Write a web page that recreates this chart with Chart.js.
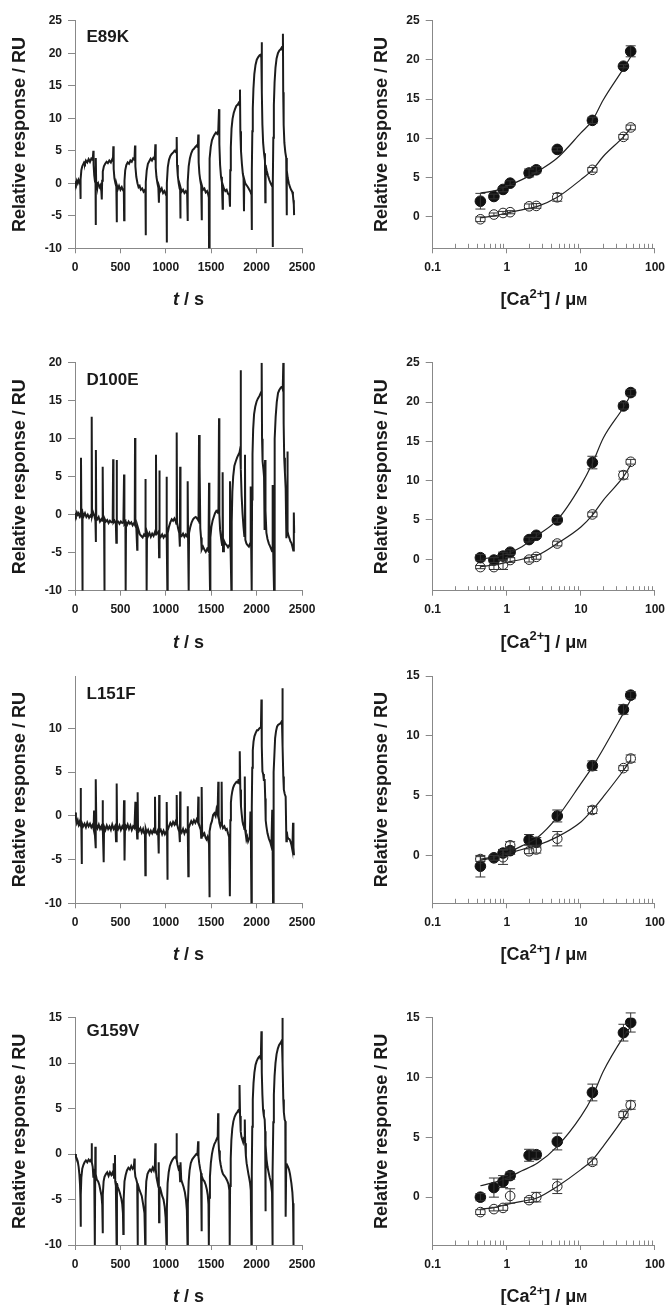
<!DOCTYPE html>
<html><head><meta charset="utf-8">
<script src="https://cdn.jsdelivr.net/npm/chart.js@4.4.1/dist/chart.umd.min.js"></script>
<style>
html,body{margin:0;padding:0;background:#fff;width:672px;height:1305px;overflow:hidden;position:relative}
canvas{position:absolute}
</style></head><body>
<script>
// ---------------- DATA ----------------
const traceTickStep = 500;
const caMajorTicks = [0.1, 1, 10, 100];
const caTickLabels = ['0.1', '1', '10', '100'];
const caMinorTicks = [0.2,0.3,0.4,0.5,0.6,0.7,0.8,0.9,2,3,4,5,6,7,8,9,20,30,40,50,60,70,80,90];
const panelLabels = ['E89K', 'D100E', 'L151F', 'G159V'];

// sensorgram traces: [time s, response RU]
const traceE89K = [[0,0.3],[10,-0.1],[20,0.4],[30,0.0],[40,0.5],[50,0.1],[57,0.3],[60,-2.4],[63,0.6],[70,2.0],[80,2.6],[90,2.9],[100,3.2],[110,3.0],[120,3.5],[135,3.2],[150,3.7],[165,3.3],[180,3.8],[195,3.6],[202,5.0],[205,2.8],[212,1.2],[220,0.3],[226,0.0],[228,-6.4],[230,3.9],[233,0.2],[242,-0.4],[255,0.0],[268,-0.6],[280,-0.3],[290,-1.2],[295,-2.5],[299,0.4],[306,1.8],[318,2.6],[332,3.0],[348,3.3],[362,3.1],[378,3.5],[395,3.2],[410,3.7],[418,3.5],[422,5.7],[426,2.2],[434,0.8],[445,0.0],[455,-0.5],[459,-6.0],[462,-0.3],[472,-0.9],[485,-0.4],[500,-1.0],[515,-0.6],[530,-1.1],[538,-1.3],[541,-5.7],[545,0.4],[553,2.0],[565,2.8],[580,3.2],[595,3.0],[610,3.5],[625,3.3],[640,3.8],[655,3.6],[661,5.8],[665,2.6],[675,1.0],[688,0.0],[700,-0.6],[712,-0.4],[725,-1.0],[740,-0.8],[755,-1.3],[770,-1.0],[776,-1.5],[778,-8.0],[781,0.2],[790,2.0],[803,3.0],[818,3.4],[833,3.8],[848,3.5],[863,3.9],[878,3.7],[885,6.0],[889,2.4],[897,1.0],[908,0.0],[918,-0.7],[924,-3.0],[928,-0.6],[940,-1.2],[955,-0.8],[970,-1.5],[985,-1.2],[1000,-1.7],[1008,-1.6],[1010,-9.1],[1013,0.0],[1022,2.5],[1035,3.6],[1050,4.2],[1065,4.5],[1080,4.7],[1095,5.0],[1110,4.8],[1116,5.2],[1120,7.1],[1124,2.8],[1132,1.2],[1142,0.0],[1152,-0.8],[1158,-1.0],[1160,-5.4],[1163,-0.6],[1175,-1.3],[1190,-1.0],[1205,-1.5],[1220,-1.2],[1235,-1.6],[1239,-1.4],[1241,-5.8],[1244,0.2],[1252,2.6],[1265,3.8],[1280,4.6],[1295,5.1],[1310,5.3],[1325,5.6],[1340,5.8],[1352,5.6],[1358,7.5],[1362,3.2],[1370,1.5],[1380,0.4],[1390,-0.4],[1395,-5.7],[1398,-0.3],[1410,-1.0],[1425,-0.8],[1440,-1.4],[1455,-1.2],[1468,-1.8],[1474,-2.2],[1476,-10.0],[1479,0.5],[1486,3.8],[1495,5.6],[1508,6.6],[1522,7.1],[1537,7.5],[1552,7.8],[1567,7.6],[1578,8.1],[1586,11.4],[1590,6.0],[1598,2.8],[1608,1.0],[1618,0.2],[1626,-3.9],[1629,-0.3],[1640,-0.8],[1655,-1.2],[1670,-1.0],[1685,-1.6],[1700,-1.8],[1707,-3.6],[1710,2.0],[1716,5.5],[1724,8.4],[1735,9.9],[1748,10.8],[1762,11.4],[1777,11.9],[1792,12.1],[1805,12.4],[1812,12.0],[1817,14.4],[1821,8.0],[1828,5.0],[1838,3.0],[1848,1.5],[1856,0.8],[1861,-4.3],[1864,0.6],[1875,0.0],[1890,-0.3],[1905,-0.6],[1920,-1.0],[1935,-1.4],[1944,-1.8],[1946,-7.2],[1949,2.0],[1953,8.0],[1958,11.5],[1965,14.5],[1975,16.8],[1988,18.2],[2002,19.0],[2018,19.4],[2033,19.7],[2046,19.8],[2052,19.3],[2056,21.7],[2059,14.0],[2064,9.0],[2072,6.2],[2082,4.6],[2092,3.5],[2096,-2.9],[2099,2.8],[2110,2.0],[2125,1.2],[2140,0.5],[2155,0.0],[2168,-0.4],[2175,-0.6],[2177,-9.8],[2180,0.0],[2184,7.0],[2190,12.0],[2198,15.5],[2208,17.8],[2220,19.2],[2235,20.0],[2250,20.4],[2265,20.6],[2278,20.9],[2286,20.5],[2290,23.0],[2293,14.0],[2298,9.0],[2306,6.2],[2316,4.8],[2326,3.9],[2331,-4.9],[2334,2.0],[2343,0.8],[2355,0.0],[2368,-0.6],[2380,-1.0],[2392,-1.3],[2400,-1.8],[2405,-2.6],[2410,-3.3],[2413,-4.9]];

const traceD100E = [[0,0.2],[10,-0.1],[20,0.3],[30,0.0],[40,0.2],[50,-0.2],[60,0.1],[66,7.5],[70,0.0],[78,0.2],[81,-10],[85,0.3],[95,-0.2],[110,0.2],[125,-0.3],[140,0.0],[155,-0.4],[170,-0.1],[180,-0.3],[184,12.9],[188,-0.2],[200,0.3],[215,-0.2],[225,-0.8],[229,-3.6],[231,8.5],[234,-0.4],[245,-0.6],[260,-0.3],[275,-0.9],[290,-0.6],[300,-0.8],[305,6.3],[309,-0.7],[320,-0.9],[323,-10],[327,-0.5],[340,-0.9],[355,-0.7],[370,-1.1],[385,-0.8],[400,-1.0],[415,-0.9],[420,7.3],[424,-1.0],[435,-0.8],[450,-1.2],[455,-3.7],[459,7.2],[462,-1.0],[475,-0.9],[490,-1.2],[505,-0.9],[520,-1.1],[533,-1.0],[540,5.3],[544,-1.2],[555,-1.0],[558,-10],[562,-1.0],[575,-1.3],[590,-0.9],[605,-1.2],[620,-1.0],[635,-1.4],[650,-1.1],[658,-1.3],[661,10.1],[665,-1.4],[675,-1.6],[685,-4.6],[688,-1.5],[700,-2.0],[715,-2.6],[730,-2.8],[745,-3.0],[760,-2.6],[772,-2.8],[775,4.7],[779,-2.5],[786,-2.7],[789,-10],[793,-2.3],[805,-2.8],[820,-2.4],[835,-2.9],[850,-2.5],[865,-2.8],[880,-2.3],[888,-2.6],[892,7.9],[896,-2.4],[910,-2.5],[922,-2.2],[926,-5.6],[929,5.8],[933,-2.6],[945,-2.9],[960,-2.6],[975,-3.0],[990,-2.7],[1003,-2.9],[1008,5.0],[1012,-2.8],[1017,-10],[1021,-2.4],[1035,-1.6],[1050,-1.0],[1065,-0.6],[1080,-0.8],[1095,-0.5],[1110,-0.9],[1116,-1.2],[1120,10.8],[1124,-1.0],[1135,-1.8],[1148,-2.4],[1155,-4.2],[1158,6.3],[1162,-2.6],[1175,-2.8],[1190,-2.5],[1205,-2.9],[1220,-2.6],[1235,-2.9],[1241,4.4],[1245,-2.7],[1252,-10],[1256,-2.4],[1270,-1.6],[1285,-1.0],[1300,-0.6],[1315,-0.4],[1330,-0.3],[1345,-0.5],[1360,-0.8],[1366,10.5],[1370,-1.2],[1375,6.3],[1380,-1.8],[1388,-3.0],[1395,-4.6],[1410,-4.2],[1425,-4.6],[1440,-4.9],[1455,-4.5],[1470,-4.8],[1476,4.2],[1480,-4.4],[1487,-10],[1491,-3.0],[1502,-1.6],[1515,-0.8],[1528,-0.3],[1542,0.2],[1556,0.5],[1570,0.3],[1580,0.8],[1586,12.7],[1590,0.0],[1598,-2.0],[1610,-3.2],[1620,-4.0],[1626,5.6],[1630,-4.8],[1640,-3.4],[1655,-3.8],[1670,-4.0],[1685,-4.3],[1700,-4.0],[1707,4.4],[1712,-3.6],[1722,-10],[1726,-1.0],[1733,3.0],[1742,5.0],[1755,6.4],[1770,7.0],[1785,7.5],[1800,7.9],[1812,8.2],[1818,8.6],[1824,19.0],[1828,6.0],[1835,2.5],[1845,0.2],[1855,-1.5],[1865,-2.8],[1872,7.9],[1876,-3.3],[1888,-3.8],[1900,-4.0],[1915,-4.2],[1928,-3.8],[1935,3.7],[1940,-4.0],[1946,-10],[1950,2.0],[1955,8.0],[1962,11.2],[1972,13.2],[1985,14.2],[2000,14.9],[2015,15.3],[2030,15.6],[2045,16.0],[2050,15.8],[2056,20.0],[2060,10.0],[2066,7.0],[2075,6.0],[2082,5.0],[2088,-2.0],[2093,7.2],[2098,0.5],[2108,-2.4],[2120,-3.2],[2135,-3.8],[2150,-4.2],[2163,-4.6],[2170,-4.8],[2177,3.9],[2182,-4.4],[2192,-10],[2196,3.0],[2202,10.0],[2210,12.9],[2222,14.8],[2236,16.0],[2250,16.4],[2265,16.7],[2280,16.9],[2288,16.5],[2294,20.0],[2298,12.0],[2304,7.5],[2312,5.5],[2320,3.5],[2328,-3.1],[2335,-1.0],[2339,8.3],[2343,-2.2],[2352,-2.8],[2362,-3.1],[2372,-3.5],[2383,-3.7],[2394,-4.2],[2404,-4.7],[2410,0.3],[2414,-2.4]];

const traceL151F = [[0,0.4],[10,-0.2],[20,-0.8],[30,-0.5],[40,-1.0],[50,-0.7],[58,-1.1],[62,3.2],[66,-1.0],[70,-1.4],[73,-5.5],[77,-0.8],[90,-1.2],[105,-0.9],[120,-1.3],[135,-0.8],[150,-1.2],[165,-0.9],[180,-1.3],[195,-1.0],[205,-1.5],[210,0.6],[215,-1.2],[222,-2.6],[226,-3.7],[231,4.2],[235,-1.0],[248,-1.4],[262,-1.0],[276,-1.5],[290,-1.2],[300,-1.6],[304,1.8],[308,-1.4],[316,-5.3],[320,-1.2],[335,-1.6],[350,-1.1],[365,-1.5],[380,-1.2],[395,-1.6],[410,-1.0],[425,-1.5],[440,-1.2],[448,-1.8],[452,-2.9],[459,3.7],[463,-1.2],[475,-1.5],[490,-1.1],[505,-1.6],[520,-1.2],[535,-1.5],[540,1.8],[544,-1.3],[547,-5.1],[551,-1.0],[565,-1.4],[580,-1.0],[595,-1.5],[610,-1.1],[625,-1.6],[640,-1.2],[655,-1.4],[665,1.6],[670,-1.3],[680,-1.5],[685,-2.6],[690,2.7],[694,-1.4],[705,-1.7],[720,-1.4],[735,-1.9],[750,-1.5],[762,-2.0],[770,-1.8],[775,-6.8],[779,-1.5],[790,-1.9],[805,-1.6],[820,-2.1],[835,-1.7],[850,-2.0],[865,-1.6],[875,-1.9],[881,2.2],[885,-1.7],[900,-2.0],[915,-1.6],[922,-4.3],[927,2.4],[931,-1.8],[945,-1.6],[960,-2.1],[975,-1.7],[990,-2.1],[1005,-1.8],[1010,1.6],[1014,-2.0],[1017,-7.3],[1021,-1.7],[1035,-1.2],[1050,-0.8],[1065,-1.1],[1080,-0.7],[1095,-1.0],[1110,-0.6],[1116,-1.0],[1120,2.4],[1124,-0.9],[1135,-1.4],[1148,-1.8],[1155,-3.0],[1158,2.8],[1162,-1.6],[1175,-1.9],[1190,-1.5],[1205,-2.0],[1220,-1.6],[1235,-1.9],[1240,1.1],[1244,-1.7],[1248,-6.9],[1252,-1.4],[1265,-1.0],[1280,-0.6],[1295,-0.9],[1310,-0.5],[1325,-0.8],[1340,-0.4],[1352,-0.7],[1358,2.2],[1362,-0.8],[1372,-1.2],[1385,-1.6],[1390,-2.5],[1395,3.3],[1400,-1.8],[1412,-2.2],[1425,-2.0],[1438,-2.5],[1448,-2.7],[1460,-2.4],[1470,-2.9],[1476,-3.2],[1480,-9.3],[1484,-1.8],[1495,-1.0],[1508,-0.6],[1521,0.1],[1535,0.3],[1548,0.0],[1558,0.7],[1570,0.2],[1578,3.9],[1582,0.0],[1590,-0.8],[1600,-1.2],[1610,-0.8],[1615,3.9],[1619,-1.0],[1630,-1.4],[1645,-1.2],[1660,-1.6],[1672,-1.5],[1685,-2.0],[1697,-2.4],[1704,-3.2],[1707,-9.2],[1711,-0.5],[1717,1.5],[1723,2.2],[1732,2.8],[1741,3.2],[1752,3.5],[1764,3.7],[1778,3.9],[1792,3.8],[1800,4.1],[1807,4.1],[1812,3.6],[1817,7.4],[1821,3.0],[1828,1.1],[1836,0.2],[1844,-0.6],[1852,-1.0],[1859,-1.2],[1865,-1.5],[1870,4.5],[1874,-1.6],[1882,-2.2],[1888,-2.7],[1897,-2.4],[1906,-2.9],[1917,-2.6],[1925,-2.2],[1932,0.5],[1937,-2.8],[1943,-10],[1947,1.0],[1952,5.5],[1958,7.5],[1966,8.5],[1976,9.1],[1990,9.5],[2004,9.8],[2016,9.8],[2030,10.0],[2042,10.1],[2048,10.3],[2053,13.3],[2057,8.0],[2064,5.1],[2072,4.8],[2080,4.1],[2089,4.1],[2095,2.0],[2100,-0.5],[2108,-1.2],[2120,-2.0],[2135,-2.6],[2150,-3.0],[2163,-3.5],[2172,0.7],[2176,-2.6],[2181,-10],[2185,0.5],[2190,5.0],[2196,7.0],[2204,8.9],[2214,9.7],[2225,10.2],[2236,10.4],[2250,10.5],[2265,10.6],[2276,10.8],[2280,10.4],[2284,14.6],[2288,8.0],[2294,4.5],[2300,3.0],[2310,2.5],[2320,2.2],[2328,-2.9],[2333,-1.8],[2340,-2.4],[2350,-2.6],[2364,-2.7],[2375,-3.0],[2385,-3.4],[2394,-3.9],[2401,-0.8],[2406,-3.6],[2412,-4.5]];

const traceG159V = [[0,0.0],[10,-0.3],[20,-0.5],[30,-0.8],[40,-1.4],[48,-2.2],[55,-3.3],[60,-5.0],[62,-8.0],[65,-4.5],[70,-2.6],[80,-1.6],[92,-1.2],[105,-0.9],[120,-0.7],[135,-0.9],[150,-0.6],[165,-0.8],[178,-0.6],[183,1.2],[187,-0.9],[195,-1.4],[202,-2.5],[206,-1.6],[212,-2.4],[217,-2.0],[220,-10],[224,0.8],[228,-2.2],[240,-2.8],[255,-3.0],[268,-3.4],[280,-4.0],[292,-4.6],[300,-5.6],[304,-8.7],[308,-4.5],[315,-3.0],[325,-2.5],[340,-2.2],[355,-2.0],[370,-2.4],[385,-2.0],[400,-2.3],[415,-2.0],[422,-2.3],[426,-1.0],[430,-2.6],[440,-0.1],[443,-3.0],[450,-3.5],[458,-10],[462,-3.2],[470,-3.6],[482,-3.9],[495,-4.3],[510,-4.9],[520,-5.5],[528,-6.5],[532,-8.8],[536,-5.0],[545,-3.0],[558,-2.3],[572,-1.8],[588,-1.5],[605,-1.7],[620,-1.3],[635,-1.6],[648,-1.4],[655,-0.5],[658,-1.8],[665,-2.5],[675,-2.8],[685,-3.2],[689,-10],[693,-3.3],[705,-3.8],[720,-4.2],[735,-4.6],[750,-5.5],[765,-6.5],[773,-10],[777,-5.0],[785,-3.0],[798,-2.2],[812,-1.9],[826,-1.7],[840,-1.9],[855,-1.5],[868,-1.8],[880,-1.2],[885,1.2],[889,-1.6],[898,-2.6],[910,-3.2],[918,-3.6],[922,-0.9],[926,-7.5],[930,-4.0],[940,-3.8],[950,-4.2],[960,-4.6],[975,-5.0],[988,-5.8],[998,-7.0],[1008,-10],[1012,-6.0],[1020,-3.2],[1032,-2.0],[1045,-1.3],[1060,-0.9],[1075,-0.6],[1090,-0.4],[1105,-0.3],[1115,-0.5],[1118,2.3],[1122,-0.6],[1130,-1.2],[1140,-1.6],[1150,-1.4],[1158,-3.0],[1162,-0.9],[1170,-2.8],[1182,-3.2],[1195,-3.6],[1210,-4.2],[1222,-5.0],[1232,-6.2],[1239,-10],[1243,-5.5],[1252,-3.0],[1262,-1.8],[1275,-1.0],[1290,-0.6],[1305,-0.4],[1320,-0.2],[1335,0.0],[1348,-0.1],[1356,1.4],[1360,-0.3],[1368,-1.0],[1378,-1.6],[1388,-2.1],[1393,-8.5],[1397,-2.4],[1410,-2.8],[1425,-3.0],[1440,-3.4],[1452,-3.9],[1462,-4.5],[1470,-5.5],[1474,-10],[1478,-4.8],[1486,-2.5],[1496,-1.0],[1508,0.0],[1520,0.6],[1535,1.1],[1550,1.4],[1562,1.7],[1572,1.9],[1576,4.5],[1580,1.5],[1586,0.4],[1595,-0.6],[1605,-1.2],[1613,-1.6],[1620,-1.9],[1630,-2.2],[1645,-2.4],[1660,-2.6],[1675,-2.9],[1690,-3.3],[1700,-4.0],[1704,-10],[1708,-3.5],[1715,-0.5],[1722,1.5],[1732,2.8],[1744,3.6],[1758,4.1],[1772,4.4],[1786,4.6],[1798,4.8],[1807,4.9],[1810,4.5],[1814,7.6],[1818,4.2],[1825,2.5],[1833,1.9],[1842,1.6],[1852,1.3],[1862,1.8],[1870,3.8],[1874,1.2],[1882,-0.2],[1890,-1.0],[1900,-1.6],[1910,-2.2],[1918,-2.6],[1928,-3.2],[1936,-4.0],[1943,-10],[1947,-2.0],[1952,3.0],[1958,6.0],[1966,7.8],[1976,9.0],[1988,9.8],[2000,10.2],[2014,10.5],[2028,10.7],[2040,10.8],[2046,10.4],[2053,13.5],[2057,9.0],[2064,6.5],[2071,4.9],[2080,4.2],[2089,3.8],[2094,2.5],[2097,-6.3],[2101,1.0],[2110,-0.6],[2120,-1.4],[2132,-2.0],[2145,-2.6],[2155,-3.0],[2163,-3.6],[2170,-4.2],[2174,-10],[2178,-2.0],[2184,3.5],[2190,6.5],[2198,8.6],[2208,10.0],[2220,11.0],[2234,11.6],[2248,12.0],[2262,12.2],[2273,12.4],[2280,12.0],[2284,15.0],[2288,10.0],[2294,6.0],[2300,4.6],[2309,3.8],[2316,3.6],[2320,-6.9],[2326,-1.4],[2336,-1.2],[2346,-1.4],[2357,-1.7],[2368,-2.2],[2383,-3.2],[2394,-4.2],[2401,-5.4],[2405,-7.0],[2408,-10]];

// dose-response: [Ca2+] in µM
const caConc = [0.44, 0.67, 0.89, 1.11, 2.0, 2.5, 4.8, 14.3, 37.5, 47];
const fitConc = [0.44, 0.7, 1, 1.6, 2.6, 4.8, 10, 14.3, 20, 37.5, 47];

const e89kFilled = [2.0, 2.6, 3.5, 4.3, 5.6, 6.0, 8.6, 12.3, 19.2, 21.1];
const e89kFilledErr = [1.0, 0.3, 0.3, 0.3, 0.5, 0.4, 0.2, 0.4, 0.2, 0.7];
const e89kOpen = [-0.3, 0.3, 0.5, 0.6, 1.35, 1.4, 2.5, 6.0, 10.2, 11.4];
const e89kOpenErr = [0.3, 0.2, 0.2, 0.2, 0.3, 0.3, 0.5, 0.3, 0.3, 0.3];
const e89kFitFilled = [3.05, 3.35, 3.9, 4.75, 5.8, 7.5, 10.7, 12.3, 14.9, 18.9, 20.4];
const e89kFitOpen = [-0.1, 0.17, 0.5, 0.9, 1.35, 2.5, 4.75, 6.0, 7.7, 10.2, 11.3];

const d100eFilled = [0.2, -0.1, 0.4, 0.9, 2.5, 3.05, 5.0, 12.3, 19.5, 21.2];
const d100eFilledErr = [0.4, 0.3, 0.5, 0.3, 0.3, 0.3, 0.3, 0.8, 0.4, 0.4];
const d100eOpen = [-1.0, -1.0, -0.7, -0.1, -0.05, 0.3, 2.0, 5.7, 10.7, 12.4];
const d100eOpenErr = [0.2, 0.3, 0.6, 0.3, 0.3, 0.3, 0.3, 0.3, 0.5, 0.3];
const d100eFitFilled = [0.0, 0.3, 0.7, 1.6, 3.05, 5.0, 9.4, 12.2, 15.4, 19.3, 20.9];
const d100eFitOpen = [-0.95, -0.7, -0.4, 0.0, 0.5, 2.0, 4.1, 5.6, 7.5, 10.5, 12.0];

const l151fFilled = [-0.9, -0.2, 0.2, 0.4, 1.3, 1.1, 3.3, 7.5, 12.2, 13.4];
const l151fFilledErr = [0.9, 0.2, 0.3, 0.3, 0.45, 0.4, 0.5, 0.4, 0.4, 0.3];
const l151fOpen = [-0.3, -0.2, -0.15, 0.85, 0.35, 0.5, 1.4, 3.8, 7.3, 8.1];
const l151fOpenErr = [0.2, 0.2, 0.6, 0.3, 0.2, 0.3, 0.6, 0.3, 0.2, 0.3];
const l151fFitFilled = [-0.4, -0.15, 0.2, 0.8, 1.5, 3.2, 6.0, 7.4, 8.9, 11.9, 13.0];
const l151fFitOpen = [-0.3, -0.1, 0.15, 0.5, 0.85, 1.55, 2.8, 3.8, 4.9, 7.1, 8.0];

const g159vFilled = [0.0, 0.8, 1.3, 1.8, 3.5, 3.55, 4.65, 8.75, 13.75, 14.6];
const g159vFilledErr = [0.3, 0.8, 0.5, 0.3, 0.5, 0.3, 0.7, 0.7, 0.7, 0.8];
const g159vOpen = [-1.25, -1.0, -0.9, 0.1, -0.25, 0.0, 0.9, 2.95, 6.9, 7.7];
const g159vOpenErr = [0.2, 0.15, 0.2, 0.6, 0.2, 0.4, 0.6, 0.25, 0.25, 0.35];
const g159vFitFilled = [0.95, 1.25, 1.6, 2.2, 2.85, 4.25, 6.75, 8.4, 10.5, 13.4, 14.25];
const g159vFitOpen = [-1.0, -0.85, -0.6, -0.35, -0.05, 0.9, 2.3, 3.1, 4.25, 6.6, 7.6];

// ---------------- DRAWING ----------------
const FAM = '"Liberation Sans", Arial, Helvetica, sans-serif';
Chart.defaults.font.family = FAM;
Chart.defaults.font.weight = 'bold';
Chart.defaults.font.size = 12;
Chart.defaults.color = '#1a1a1a';
Chart.defaults.animation = false;
const AXIS = '#888';

const decorPlugin = {
  id: 'decor',
  afterDatasetsDraw(chart) {
    const ctx = chart.ctx, xs = chart.scales.x, ys = chart.scales.y;
    chart.data.datasets.forEach(ds => {
      if (!ds.errorBars) return;
      ctx.save(); ctx.strokeStyle = '#333'; ctx.lineWidth = 1;
      ds.data.forEach((p, i) => {
        const e = ds.errorBars[i]; if (!e) return;
        const px = xs.getPixelForValue(p.x);
        const y1 = ys.getPixelForValue(p.y + e), y2 = ys.getPixelForValue(p.y - e);
        ctx.beginPath();
        ctx.moveTo(px, y1); ctx.lineTo(px, y2);
        ctx.moveTo(px - 5, y1); ctx.lineTo(px + 5, y1);
        ctx.moveTo(px - 5, y2); ctx.lineTo(px + 5, y2);
        ctx.stroke();
      });
      ctx.restore();
    });
  },
  afterDraw(chart, args, o) {
    const ctx = chart.ctx, a = chart.chartArea;
    ctx.save();
    if (o.minor) {
      const xs = chart.scales.x;
      ctx.strokeStyle = AXIS; ctx.lineWidth = 1; ctx.beginPath();
      o.minor.forEach(v => { const px = Math.round(xs.getPixelForValue(v)) + 0.5; ctx.moveTo(px, a.bottom); ctx.lineTo(px, a.bottom - 4.5); });
      ctx.stroke();
    }
    ctx.fillStyle = '#1a1a1a'; ctx.textBaseline = 'alphabetic'; ctx.textAlign = 'left';
    if (o.label) {
      ctx.font = 'bold 17px ' + FAM;
      ctx.fillText(o.label, a.left + o.labelDx, a.top + o.labelDy);
    }
    if (o.xTitle) {
      let total = 0;
      o.xTitle.forEach(p => { ctx.font = p[1]; total += ctx.measureText(p[0]).width; });
      let x = (a.left + a.right) / 2 - total / 2;
      const base = a.bottom + 57;
      o.xTitle.forEach(p => { ctx.font = p[1]; ctx.fillText(p[0], x, base + p[2]); x += ctx.measureText(p[0]).width; });
    }
    ctx.restore();
  }
};

function makeCanvas(left, chartTop, chartBottom, w) {
  const top = Math.floor(chartTop) - 20;
  const h = Math.ceil(chartBottom) + 75 - top;
  const c = document.createElement('canvas');
  c.width = w; c.height = h;
  c.style.left = left + 'px'; c.style.top = top + 'px';
  c.style.width = w + 'px'; c.style.height = h + 'px';
  document.body.appendChild(c);
  return {c, padTop: chartTop - top, xH: top + h - chartBottom};
}

function yAxis(min, max, width) {
  return {
    type: 'linear', min, max,
    afterBuildTicks: s => { s.ticks = s.ticks.filter(t => Math.abs(t.value % 5) < 1e-9); },
    ticks: {stepSize: 5, padding: 6, color: '#1a1a1a', font: {size: 12, weight: 'bold'}, callback: v => String(v)},
    grid: {drawOnChartArea: false, drawTicks: true, tickLength: 7, color: AXIS, lineWidth: 1},
    border: {display: true, color: AXIS, width: 1},
    title: {display: true, text: 'Relative response / RU', color: '#1a1a1a', font: {size: 18, weight: 'bold'}, padding: {top: 4, bottom: 4}},
    afterFit: s => { s.width = width; }
  };
}

const tTitle = [['t', 'italic bold 18px ' + FAM, 0], [' / s', 'bold 18px ' + FAM, 0]];
const caTitle = [['[Ca', 'bold 18px ' + FAM, 0], ['2+', 'bold 13px ' + FAM, -7.5], ['] / \u03bc', 'bold 18px ' + FAM, 0], ['M', 'bold 13px ' + FAM, 0]];

function traceChart(series, yMin, yMax, chartTop, chartBottom, label, labelDy) {
  const m = makeCanvas(0, chartTop, chartBottom, 336);
  new Chart(m.c, {
    type: 'scatter',
    data: {datasets: [{data: series.map(p => ({x: p[0], y: p[1]})), showLine: true, pointRadius: 0, borderColor: '#1c1c1c', borderWidth: 2, tension: 0}]},
    options: {
      responsive: false, devicePixelRatio: 1,
      layout: {padding: {top: m.padTop, left: 4.9, right: 34, bottom: 0}},
      plugins: {legend: {display: false}, tooltip: {enabled: false},
        decor: {label, labelDx: 11.5, labelDy, xTitle: tTitle}},
      scales: {
        x: {type: 'linear', min: 0, max: 2500,
          ticks: {stepSize: traceTickStep, padding: 7, maxRotation: 0, autoSkip: false, color: '#1a1a1a', font: {size: 12, weight: 'bold'}, callback: v => String(v)},
          grid: {drawOnChartArea: false, drawTicks: true, tickLength: 5, color: AXIS},
          border: {display: true, color: AXIS},
          afterFit: s => { s.height = m.xH; }},
        y: yAxis(yMin, yMax, 70.1)
      }
    },
    plugins: [decorPlugin]
  });
}

function caChart(filled, filledErr, open, openErr, fitF, fitO, yMin, yMax, chartTop, chartBottom) {
  const m = makeCanvas(336, chartTop, chartBottom, 336);
  const pts = arr => arr.map((v, i) => ({x: caConc[i], y: v}));
  const fit = arr => arr.map((v, i) => ({x: fitConc[i], y: v}));
  new Chart(m.c, {
    type: 'scatter',
    data: {datasets: [
      {data: fit(fitF), showLine: true, pointRadius: 0, borderColor: '#222', borderWidth: 1.2, cubicInterpolationMode: 'monotone'},
      {data: fit(fitO), showLine: true, pointRadius: 0, borderColor: '#222', borderWidth: 1.2, cubicInterpolationMode: 'monotone'},
      {data: pts(open), errorBars: openErr, pointRadius: 4.8, pointBackgroundColor: 'rgba(255,255,255,0)', pointBorderColor: '#222', pointBorderWidth: 1},
      {data: pts(filled), errorBars: filledErr, pointRadius: 5.3, pointBackgroundColor: '#111', pointBorderColor: '#111', pointBorderWidth: 1}
    ]},
    options: {
      responsive: false, devicePixelRatio: 1,
      layout: {padding: {top: m.padTop, left: 31.7, right: 12, bottom: 0}},
      plugins: {legend: {display: false}, tooltip: {enabled: false},
        decor: {minor: caMinorTicks, xTitle: caTitle}},
      scales: {
        x: {type: 'logarithmic', min: 0.1, max: 100,
          afterBuildTicks: s => { s.ticks = caMajorTicks.map(v => ({value: v})); },
          ticks: {padding: 7, maxRotation: 0, autoSkip: false, color: '#1a1a1a', font: {size: 12, weight: 'bold'},
            callback: (v, i) => caTickLabels[i]},
          grid: {drawOnChartArea: false, drawTicks: true, tickLength: 5, color: AXIS},
          border: {display: true, color: AXIS},
          afterFit: s => { s.height = m.xH; }},
        y: yAxis(yMin, yMax, 65)
      }
    },
    plugins: [decorPlugin]
  });
}

traceChart(traceE89K, -10, 25, 20.7, 248.3, panelLabels[0], 21.3);
caChart(e89kFilled, e89kFilledErr, e89kOpen, e89kOpenErr, e89kFitFilled, e89kFitOpen, -4, 25, 20.7, 248.3);
traceChart(traceD100E, -10, 20, 362.7, 590.7, panelLabels[1], 22.3);
caChart(d100eFilled, d100eFilledErr, d100eOpen, d100eOpenErr, d100eFitFilled, d100eFitOpen, -4, 25, 362.7, 590.7);
traceChart(traceL151F, -10, 16, 676, 903.3, panelLabels[2], 23.3);
caChart(l151fFilled, l151fFilledErr, l151fOpen, l151fOpenErr, l151fFitFilled, l151fFitOpen, -4, 15, 676, 903.3);
traceChart(traceG159V, -10, 15, 1017.7, 1245, panelLabels[3], 18);
caChart(g159vFilled, g159vFilledErr, g159vOpen, g159vOpenErr, g159vFitFilled, g159vFitOpen, -4, 15, 1017.7, 1245);
</script>
</body></html>
